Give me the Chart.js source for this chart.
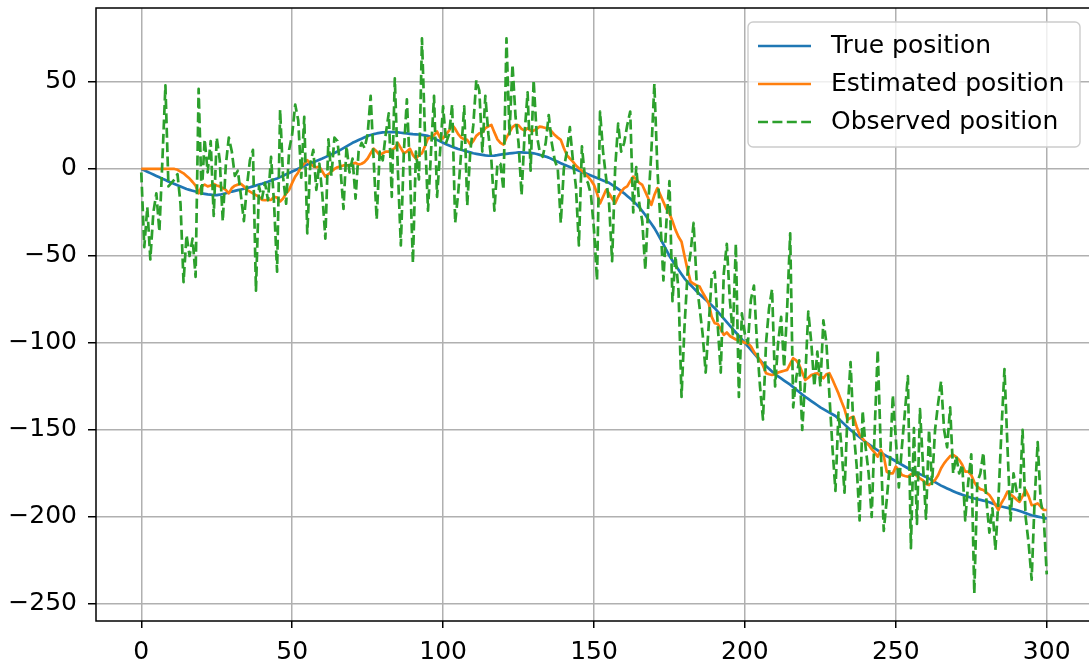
<!DOCTYPE html>
<html>
<head>
<meta charset="utf-8">
<script src="https://cdn.jsdelivr.net/npm/chart.js@4.4.1/dist/chart.umd.min.js"></script>
<style>
  html, body { margin: 0; padding: 0; background: #fff; overflow: hidden; }
  #wrap { width: 1089px; height: 668px; overflow: hidden; position: relative; }
  canvas { display: block; }
</style>
</head>
<body>
<div id="wrap"><canvas id="c" width="1095" height="668"></canvas></div>
<script>
// time steps 0..300
const steps = Array.from({ length: 301 }, (_, i) => i);

const truePos = [
  0, -0.8, -1.6, -2.4, -3.2, -4, -4.8, -5.6, -6.4, -7.2,
  -8, -8.7, -9.4, -10.1, -10.8, -11.5, -12, -12.5, -13, -13.5,
  -14, -14.3, -14.6, -14.8, -15, -15, -14.8, -14.4, -14, -13.5,
  -13, -12.6, -12.2, -11.8, -11.4, -11, -10.5, -10, -9.5, -9,
  -8.5, -7.9, -7.3, -6.7, -6.1, -5.5, -4.7, -3.9, -3.1, -2.3,
  -1.5, -0.7, 0.1, 0.9, 1.7, 2.5, 3.2, 3.9, 4.6, 5.3,
  6, 6.8, 7.6, 8.4, 9.2, 10, 11, 12, 13, 14,
  15, 15.8, 16.6, 17.4, 18.2, 19, 19.5, 20, 20.4, 20.7,
  21, 21.1, 21.2, 21.2, 21.1, 21, 20.8, 20.6, 20.4, 20.2,
  20, 19.9, 19.8, 19.6, 19.3, 19, 18.3, 17.5, 16.7, 15.9,
  15, 14.2, 13.5, 12.8, 12.1, 11.5, 11, 10.5, 10, 9.5,
  9, 8.7, 8.4, 8.1, 7.8, 7.6, 7.6, 7.7, 7.9, 8.2,
  8.5, 8.7, 8.9, 9.1, 9.3, 9.5, 9.5, 9.4, 9.3, 9.2,
  9, 8.6, 8.1, 7.6, 7.1, 6.5, 5.7, 4.9, 4.1, 3.3,
  2.5, 1.8, 1.1, 0.4, -0.3, -1, -1.7, -2.4, -3.1, -3.8,
  -4.5, -5.2, -5.9, -6.6, -7.3, -8, -9.1, -10.3, -11.5, -12.7,
  -14, -15.5, -17, -18.5, -20.2, -22, -24.2, -26.5, -29, -31.5,
  -34, -37, -40.2, -43.4, -46.7, -50, -52.7, -55.3, -57.9, -60.5,
  -63, -64.9, -66.7, -68.5, -70.3, -72, -73.6, -75.2, -76.8, -78.4,
  -80, -82, -84, -86, -88, -90, -92, -94, -96, -98,
  -100, -102, -104, -106, -108, -110, -111.6, -113.2, -114.8, -116.4,
  -118, -119.2, -120.4, -121.6, -122.8, -124, -125.4, -126.8, -128.2, -129.6,
  -131, -132.2, -133.4, -134.6, -135.8, -137, -138, -139, -140, -141,
  -142, -143.6, -145.2, -146.8, -148.4, -150, -151.4, -152.8, -154.2, -155.6,
  -157, -158.2, -159.4, -160.6, -161.8, -163, -164, -165, -166, -167,
  -168, -169, -170, -171, -172, -173, -173.8, -174.6, -175.4, -176.2,
  -177, -178, -179, -180, -181, -182, -182.8, -183.6, -184.4, -185.2,
  -186, -186.6, -187.2, -187.8, -188.4, -189, -189.4, -189.8, -190.2, -190.6,
  -191, -191.6, -192.2, -192.8, -193.4, -194, -194.4, -194.8, -195.2, -195.6,
  -196, -196.6, -197.2, -197.8, -198.4, -199, -199.4, -199.8, -200.2, -200.6,
  -201
];

const estPos = [
  0, 0, 0, 0, 0, 0, 0, 0, 0, 0,
  0, 0, -0.5, -1.5, -2.5, -4, -5.5, -7.5, -9.6, -14,
  -10, -9, -10, -9.5, -8.6, -9.5, -10, -11, -12, -14,
  -11, -9.6, -9, -8.6, -10, -12, -13, -14, -15, -16,
  -17.8, -18, -17.8, -17.8, -16, -16.5, -18.7, -17, -14, -12,
  -8, -4.4, -2, 1.3, 3, 5, 3, 1.5, 1, 1.3,
  -1.5, -4.4, -3, -1.5, 0, 1, 1.5, 2, 2, 2.2,
  3, 3.5, 2.5, 3, 4, 6, 9, 11.7, 10, 8,
  9, 10, 10, 11, 12, 14.9, 12, 9, 10, 11.7,
  8, 6, 8, 9, 13, 17.6, 18, 19.5, 21.5, 18,
  17.6, 20, 22, 25.3, 23, 20, 18, 17, 16.7, 14,
  16, 19, 20.5, 21, 23.4, 24.5, 25.3, 21, 17, 15,
  14, 18, 21, 24, 25.3, 25, 23, 22, 23.4, 22,
  22, 23, 24.3, 24, 23.5, 23.4, 21.5, 19.5, 18, 16.7,
  12, 8, 6, 4.2, 2, 0.4, -1, -3, -4.4, -6.5,
  -9.2, -14, -19.8, -16, -12.1, -14, -17, -19.8, -16, -13,
  -11, -10, -7, -4.4, -6, -8, -9.2, -13, -17, -20.7,
  -15, -11, -15, -19, -23, -25.5, -30, -35, -39, -41.8,
  -50, -58, -64.8, -66, -67, -67.6, -71, -74, -77.2, -85,
  -88.7, -89, -92, -95.4, -94, -96, -97, -98, -98.3, -99,
  -100, -100.2, -102, -105, -107.5, -109.8, -113, -117.4, -118, -118.4,
  -118, -117, -116.5, -116, -115.5, -112, -108.8, -110, -112.6, -117,
  -121.3, -120, -118.4, -117.8, -117.4, -119, -120.3, -118, -117.4, -121,
  -125, -129, -133.7, -138, -144.2, -143, -142.3, -148, -152.9, -155,
  -157, -158.6, -161, -163, -165.3, -161.5, -165, -174, -175, -175,
  -171.1, -173, -175.9, -176.5, -176.9, -175.5, -175, -176.5, -177.8, -179,
  -181, -181.7, -180, -178.8, -176, -172, -169.2, -167, -165, -164.4,
  -165.5, -167.2, -170, -174, -174, -175.9, -180, -182.6, -184, -184.5,
  -186, -187.4, -190, -193, -196, -192, -189, -185.5, -187, -188.4,
  -190, -191.3, -188, -184.5, -188, -193.2, -193, -192.2, -194, -196,
  -196
];

const obsPos = [
  -2, -45, -22, -52, -25, -14, -36, 5, 48, -10,
  -8, -6, -3, -20, -65, -38, -50, -40, -62, 46,
  -16, 17, -2, 16, -27, 18, 5, -30, 2, 18,
  10, -4, -1, -15, -30, -10, 5, 11, -70, -10,
  -17, -8, -18, 7, -20, -59, 34, -5, -20, 11,
  20, 37, 28, -5, 30, -37, 3, 11, -12, 3,
  -15, -40, 17, -4, 18, 16, 0, -23, 13, -2,
  6, -17, 10, 15, 12, 20, 42, 5, -29, 10,
  5, 20, 32, -16, 52, 0, -44, 10, 40, 0,
  -54, 10, -6, 75, 20, -24, 10, 42, -16, 10,
  36, 15, 20, 37, -31, -14, 10, 36, -21, 10,
  25, 51, 45, 10, 42, 20, 5, -24, 3, 3,
  -12, 75, 20, 60, 30, 15, -15, 20, 44, -1,
  51, 20, 10, 7, 15, 31, 15, 5, 0, -31,
  0, 10, 24, 5, -10, -44, 13, -5, -8, -15,
  -35, -64, 33, 10, -5, -20, -53, 0, 26, 10,
  15, 25, 33, -25, 1, -20, -30, -58, -20, 10,
  49, 0, -30, -64, -30, -7, -76, -50, -70, -131,
  -90, -60, -48, -31, -65, -80, -95, -117, -90, -62,
  -59, -90, -117, -60, -43, -75, -95, -43, -131, -83,
  -95, -100, -75, -67, -100, -125, -144, -100, -80, -69,
  -125, -100, -85, -114, -80, -37, -137, -120, -110, -150,
  -120, -82, -100, -125, -105, -125, -87, -100, -130, -160,
  -185, -140, -160, -186, -140, -111, -150, -170, -202, -139,
  -160, -175, -200, -150, -104, -160, -208, -190, -170, -130,
  -155, -183, -160, -140, -119, -218, -149, -204, -138, -170,
  -201, -150, -181, -150, -135, -122, -150, -160, -137, -175,
  -165, -175, -170, -202, -180, -164, -244, -180, -175, -163,
  -190, -209, -195, -219, -190, -150, -115, -160, -202, -175,
  -185, -190, -150, -200, -215, -236, -190, -157, -191, -200,
  -233
];

const seriesLabels = ['True position', 'Estimated position', 'Observed position'];
const seriesColors = ['#1f77b4', '#ff7f0e', '#2ca02c'];
const xTicks = [0, 50, 100, 150, 200, 250, 300];
const yTicks = [-250, -200, -150, -100, -50, 0, 50];

const FONT = 'DejaVu Sans';
const fmt = v => (v < 0 ? '\u2212' + Math.abs(v) : String(v));

const framePlugin = {
  id: 'frameAndLegend',
  afterDatasetsDraw(chart) {
    const { ctx, chartArea: a } = chart;
    ctx.save();
    // spines
    ctx.strokeStyle = '#000';
    ctx.lineWidth = 1.5;
    ctx.strokeRect(a.left, a.top, a.right - a.left, a.bottom - a.top);

    // legend box
    const bx = a.right - 344, by = a.top + 14, bw = 332, bh = 125;
    ctx.beginPath();
    if (ctx.roundRect) ctx.roundRect(bx, by, bw, bh, 5); else ctx.rect(bx, by, bw, bh);
    ctx.fillStyle = 'rgba(255,255,255,0.8)';
    ctx.fill();
    ctx.strokeStyle = '#cccccc';
    ctx.lineWidth = 1.4;
    ctx.stroke();

    ctx.font = '25px "' + FONT + '"';
    ctx.textBaseline = 'middle';
    ctx.textAlign = 'left';
    chart.data.datasets.forEach((ds, i) => {
      const y = by + 24 + i * 38;
      ctx.beginPath();
      ctx.setLineDash(ds.borderDash || []);
      ctx.strokeStyle = ds.borderColor;
      ctx.lineWidth = ds.borderWidth;
      ctx.lineCap = 'butt';
      ctx.moveTo(bx + 10, y);
      ctx.lineTo(bx + 63, y);
      ctx.stroke();
      ctx.setLineDash([]);
      ctx.fillStyle = '#000';
      ctx.fillText(ds.label, bx + 83, y);
    });
    ctx.restore();
  }
};

const common = { pointRadius: 0, borderWidth: 2.7, tension: 0, fill: false,
                 borderJoinStyle: 'round', borderCapStyle: 'butt' };

new Chart(document.getElementById('c'), {
  type: 'line',
  data: {
    labels: steps,
    datasets: [
      Object.assign({ label: seriesLabels[0], data: truePos, borderColor: seriesColors[0], order: 3 }, common),
      Object.assign({ label: seriesLabels[1], data: estPos, borderColor: seriesColors[1], order: 2 }, common),
      Object.assign({ label: seriesLabels[2], data: obsPos, borderColor: seriesColors[2], order: 1,
                      borderDash: [10, 4.4] }, common)
    ]
  },
  options: {
    responsive: false,
    animation: false,
    devicePixelRatio: 1,
    layout: { padding: { top: 8, right: 3, left: 0, bottom: 0 } },
    plugins: { legend: { display: false }, tooltip: { enabled: false } },
    scales: {
      x: {
        type: 'linear', min: -15, max: 315,
        afterBuildTicks: s => { s.ticks = xTicks.map(v => ({ value: v })); },
        afterFit: s => { s.height = 47; s.paddingLeft = 0; s.paddingRight = 0; },
        grid: { color: '#b0b0b0', lineWidth: 1.5, tickLength: 7, tickColor: '#000', tickWidth: 1.5 },
        border: { display: false },
        ticks: { color: '#000', font: { family: FONT, size: 25 }, padding: 9,
                 maxRotation: 0, autoSkip: false, callback: v => fmt(v) }
      },
      y: {
        type: 'linear', min: -259.8, max: 92.5,
        afterBuildTicks: s => { s.ticks = yTicks.map(v => ({ value: v })); },
        afterFit: s => { s.width = 96; s.paddingTop = 0; s.paddingBottom = 0; },
        grid: { color: '#b0b0b0', lineWidth: 1.5, tickLength: 8, tickColor: '#000', tickWidth: 1.5 },
        border: { display: false },
        ticks: { color: '#000', font: { family: FONT, size: 25 }, padding: 11,
                 autoSkip: false, callback: v => fmt(v) }
      }
    }
  },
  plugins: [framePlugin]
});
</script>
</body>
</html>
